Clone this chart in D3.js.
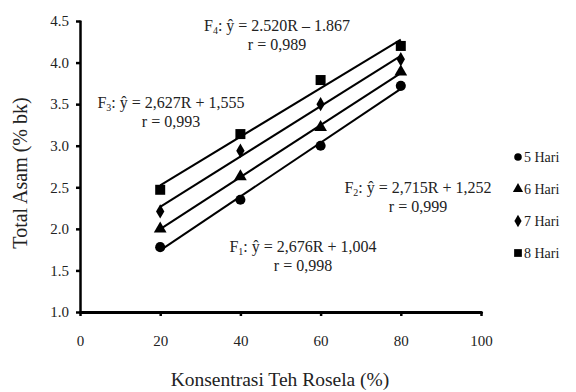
<!DOCTYPE html>
<html lang="en">
<head>
<meta charset="UTF-8">
<title>Total Asam</title>
<script src="https://d3js.org/d3.v7.min.js"></script>
<style>
    body {margin: 0; background: #fff;}
    svg text {font-family: "Liberation Serif", Tinos, "DejaVu Serif", serif !important; fill: #222;}
</style>
</head>
<body>
<div id="chart"></div>
<script>
    // data
    var konsentrasi = [20, 40, 60, 80];
    var series = ["5 Hari", "6 Hari", "7 Hari", "8 Hari"];
    var hari5 = [1.78, 2.35, 3.00, 3.72];
    var hari6 = [2.00, 2.63, 3.22, 3.89];
    var hari7 = [2.21, 2.94, 3.50, 4.04];
    var hari8 = [2.47, 3.14, 3.79, 4.20];
    var symbols = [d3.symbolCircle, d3.symbolTriangle, d3.symbolDiamond, d3.symbolSquare];
    var xTicks = [0, 20, 40, 60, 80, 100];
    var yTicks = [1.0, 1.5, 2.0, 2.5, 3.0, 3.5, 4.0, 4.5];

    // equation labels
    var eqs = [
        {f: "4", eq: " ŷ = 2.520R – 1.867", r: "r = 0,989", cx: 277, y: 31},
        {f: "3", eq: " ŷ = 2,627R + 1,555", r: "r = 0,993", cx: 171, y: 108},
        {f: "2", eq: " ŷ = 2,715R + 1,252", r: "r = 0,999", cx: 418, y: 193},
        {f: "1", eq: " ŷ = 2,676R + 1,004", r: "r = 0,998", cx: 303, y: 252}
    ];

    var allSeries = [hari5, hari6, hari7, hari8];

    var svg = d3.select("#chart").append("svg")
        .attr("width", 576)
        .attr("height", 392);

    var x = d3.scaleLinear().domain([0, 100]).range([80, 481]);
    var y = d3.scaleLinear().domain([1, 4.5]).range([312, 21]);

    // y axis
    var yAxis = svg.append("g")
        .attr("transform", "translate(80,0)")
        .call(d3.axisLeft(y).tickValues(yTicks).tickFormat(d3.format(".1f")).tickSize(4).tickSizeOuter(0));
    yAxis.select(".domain").attr("stroke-width", 2.5).attr("stroke-linecap", "round");
    yAxis.selectAll(".tick line").attr("stroke-width", 2.5);
    yAxis.selectAll("text").attr("font-size", 15).attr("x", -11).attr("fill", "#333");

    // x axis
    var xAxis = svg.append("g")
        .attr("transform", "translate(0,312)")
        .call(d3.axisBottom(x).tickValues(xTicks).tickSize(4).tickSizeOuter(0));
    xAxis.select(".domain").attr("stroke-width", 3).attr("stroke-linecap", "round");
    xAxis.selectAll(".tick line").attr("stroke-width", 2.5);
    xAxis.selectAll("text").attr("font-size", 15).attr("y", 23).attr("fill", "#333");

    // axis titles
    svg.append("text")
        .attr("x", 280).attr("y", 386)
        .attr("text-anchor", "middle")
        .attr("font-size", 19.5)
        .text("Konsentrasi Teh Rosela (%)");
    svg.append("text")
        .attr("transform", "translate(27,173) rotate(-90)")
        .attr("text-anchor", "middle")
        .attr("font-size", 20)
        .text("Total Asam (% bk)");

    // least squares fit lines from 20 to 80
    function fit(vals) {
        var mx = d3.mean(konsentrasi), my = d3.mean(vals);
        var sxy = d3.sum(konsentrasi, function(k, i) {return (k - mx) * (vals[i] - my);});
        var sxx = d3.sum(konsentrasi, function(k) {return (k - mx) * (k - mx);});
        var b = sxy / sxx;
        return function(k) {return my + b * (k - mx);};
    }

    var sizes = [80, 70, 60, 100];

    allSeries.forEach(function(vals, s) {
        var f = fit(vals);
        var ends = [konsentrasi[0], konsentrasi[konsentrasi.length - 1]];
        svg.append("path")
            .datum(ends)
            .attr("fill", "none")
            .attr("stroke", "#000")
            .attr("stroke-width", 2)
            .attr("d", d3.line().x(function(d) {return x(d);}).y(function(d) {return y(f(d));}));

        svg.selectAll(".pt" + s)
            .data(vals)
            .enter().append("path")
            .attr("class", "pt" + s)
            .attr("transform", function(d, i) {return "translate(" + x(konsentrasi[i]) + "," + y(d) + ")";})
            .attr("d", d3.symbol().type(symbols[s]).size(sizes[s]))
            .attr("fill", "#000");
    });

    // legend
    var legend = svg.selectAll(".legend")
        .data(series)
        .enter().append("g")
        .attr("transform", function(d, i) {return "translate(518," + (157 + i * 32) + ")";});
    legend.append("path")
        .attr("d", function(d, i) {return d3.symbol().type(symbols[i]).size(i == 3 ? 60 : 45)();})
        .attr("fill", "#000");
    legend.append("text")
        .attr("x", 6).attr("y", 5)
        .attr("font-size", 14)
        .text(function(d) {return d;});

    // equations
    var eqG = svg.selectAll(".eq")
        .data(eqs)
        .enter().append("g");
    var line1 = eqG.append("text")
        .attr("x", function(d) {return d.cx;})
        .attr("y", function(d) {return d.y;})
        .attr("text-anchor", "middle")
        .attr("font-size", 16);
    line1.append("tspan").text("F");
    line1.append("tspan").attr("font-size", 10).attr("dy", 3).text(function(d) {return d.f;});
    line1.append("tspan").attr("dy", -3).text(function(d) {return ":" + d.eq;});
    eqG.append("text")
        .attr("x", function(d) {return d.cx;})
        .attr("y", function(d) {return d.y + 19;})
        .attr("text-anchor", "middle")
        .attr("font-size", 16)
        .text(function(d) {return d.r;});
</script>
</body>
</html>
